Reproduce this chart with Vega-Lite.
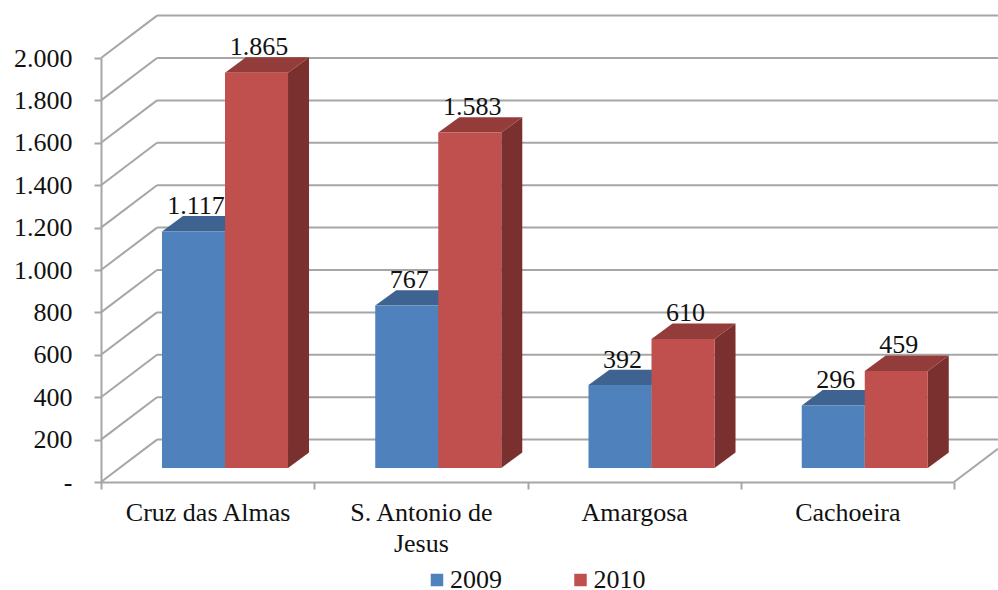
{
"$schema":"https://vega.github.io/schema/vega-lite/v6.json",
"width":853,"height":424,
"autosize":{"type":"none"},
"padding":{"left":101,"top":58,"right":44,"bottom":108},
"background":"white",
"config":{"view":{"stroke":null}},
"datasets":{
"bars":[
{"city":"Cruz das Almas","year":"2009","value":1117},
{"city":"S. Antonio de Jesus","year":"2009","value":767},
{"city":"Amargosa","year":"2009","value":392},
{"city":"Cachoeira","year":"2009","value":296},
{"city":"Cruz das Almas","year":"2010","value":1865},
{"city":"S. Antonio de Jesus","year":"2010","value":1583},
{"city":"Amargosa","year":"2010","value":610},
{"city":"Cachoeira","year":"2010","value":459}
],
"ticks":[{"tick":0},{"tick":200},{"tick":400},{"tick":600},{"tick":800},{"tick":1000},{"tick":1200},{"tick":1400},{"tick":1600},{"tick":1800},{"tick":2000}]
},
"resolve":{"axis":{"x":"independent","y":"independent"}},
"layer":[
{"data":{"name":"ticks"},"transform":[{"calculate":"datum.tick+200","as":"back"}],
 "mark":{"type":"rule","color":"#A6A6A6","strokeWidth":2},
 "encoding":{
  "x":{"datum":0.2626,"type":"quantitative","scale":{"domain":[0,4],"nice":false},"axis":null},
  "x2":{"datum":4.206},
  "y":{"field":"back","type":"quantitative","scale":{"domain":[0,2000],"nice":false},"axis":null}}},
{"data":{"name":"ticks"},"transform":[{"calculate":"datum.tick+200","as":"back"}],
 "mark":{"type":"rule","color":"#A6A6A6","strokeWidth":2},
 "encoding":{
  "x":{"datum":0,"type":"quantitative","scale":{"domain":[0,4],"nice":false},"axis":null},
  "x2":{"datum":0.2626},
  "y":{"field":"tick","type":"quantitative","scale":{"domain":[0,2000],"nice":false},"axis":null},
  "y2":{"field":"back"}}},
{"data":{"name":"ticks"},"transform":[{"filter":"datum.tick==0"},{"calculate":"157","as":"back"}],
 "mark":{"type":"rule","color":"#A6A6A6","strokeWidth":2},
 "encoding":{
  "x":{"datum":4,"type":"quantitative","scale":{"domain":[0,4],"nice":false},"axis":null},
  "x2":{"datum":4.206},
  "y":{"field":"tick","type":"quantitative","scale":{"domain":[0,2000],"nice":false},"axis":null},
  "y2":{"field":"back"}}},
{"data":{"name":"bars"},
 "transform":[
  {"calculate":"indexof(['Cruz das Almas','S. Antonio de Jesus','Amargosa','Cachoeira'],datum.city)+0.286+(datum.year=='2010'?0.2955:0)","as":"x0"},
  {"calculate":"datum.x0+0.2955","as":"x1"},
  {"calculate":"65+datum.value","as":"top"},
  {"calculate":"datum.city+datum.year","as":"key"},
  {"calculate":"[0,1]","as":"d"},{"flatten":["d"]},
  {"calculate":"datum.x1+datum.d*0.0985","as":"sx"},
  {"calculate":"datum.top+datum.d*73","as":"sy"},
  {"calculate":"66+datum.d*73","as":"sy2"},
  {"calculate":"datum.x0+datum.d*0.0985","as":"tx"}
 ],
 "layer":[
  {"transform":[{"filter":"datum.year=='2009'"}],"mark":{"type":"area","orient":"vertical","color":"#3A5F8B"},
   "encoding":{"x":{"field":"sx","type":"quantitative","scale":{"domain":[0,4],"nice":false},"axis":null},
    "y":{"field":"sy","type":"quantitative","scale":{"domain":[0,2000],"nice":false},"axis":null},"y2":{"field":"sy2"},"detail":{"field":"key"}}},
  {"transform":[{"filter":"datum.year=='2010'"}],"mark":{"type":"area","orient":"vertical","color":"#7A302E"},
   "encoding":{"x":{"field":"sx","type":"quantitative","scale":{"domain":[0,4],"nice":false},"axis":null},
    "y":{"field":"sy","type":"quantitative","scale":{"domain":[0,2000],"nice":false},"axis":null},"y2":{"field":"sy2"},"detail":{"field":"key"}}},
  {"transform":[{"filter":"datum.year=='2009'"}],"mark":{"type":"area","orient":"horizontal","color":"#3E6390"},
   "encoding":{"x":{"field":"tx","type":"quantitative","scale":{"domain":[0,4],"nice":false},"axis":null},"x2":{"field":"sx"},
    "y":{"field":"sy","type":"quantitative","scale":{"domain":[0,2000],"nice":false},"axis":null},"detail":{"field":"key"}}},
  {"transform":[{"filter":"datum.year=='2010'"}],"mark":{"type":"area","orient":"horizontal","color":"#943C3A"},
   "encoding":{"x":{"field":"tx","type":"quantitative","scale":{"domain":[0,4],"nice":false},"axis":null},"x2":{"field":"sx"},
    "y":{"field":"sy","type":"quantitative","scale":{"domain":[0,2000],"nice":false},"axis":null},"detail":{"field":"key"}}}
 ]},
{"data":{"name":"bars"},
 "transform":[
  {"calculate":"indexof(['Cruz das Almas','S. Antonio de Jesus','Amargosa','Cachoeira'],datum.city)+0.286+(datum.year=='2010'?0.2955:0)","as":"x0"},
  {"calculate":"datum.x0+0.2955","as":"x1"},
  {"calculate":"65+datum.value","as":"top"},
  {"calculate":"66","as":"base"}
 ],
 "mark":{"type":"rect"},
 "encoding":{
  "x":{"field":"x0","type":"quantitative","scale":{"domain":[0,4],"nice":false},
   "axis":{"title":null,"values":[0,1,2,3,4],"labels":false,"grid":false,"tickSize":7,"tickColor":"#A6A6A6","tickWidth":2,"domainColor":"#A6A6A6","domainWidth":2}},
  "x2":{"field":"x1"},
  "y":{"field":"top","type":"quantitative","scale":{"domain":[0,2000],"nice":false},
   "axis":{"title":null,"orient":"left","values":[0,200,400,600,800,1000,1200,1400,1600,1800,2000],"grid":false,"ticks":true,"domain":true,"labels":true,"tickSize":7,"tickColor":"#A6A6A6","tickWidth":2,"domainColor":"#A6A6A6","domainWidth":2,
    "labelFont":"Liberation Serif","labelFontSize":26,"labelColor":"#111111","labelPadding":22,"labelOverlap":false,"labelExpr":"datum.value==0?'-\u00a0\u00a0\u00a0':replace(format(datum.value,','),',','.')"}},
  "y2":{"field":"base"},
  "color":{"field":"year","type":"nominal","scale":{"domain":["2009","2010"],"range":["#4F81BD","#C0504D"]},
   "legend":{"title":null,"orient":"none","legendX":323,"legendY":509,"direction":"horizontal","columns":2,"columnPadding":65.5,"symbolType":"square","symbolSize":156,"symbolStrokeWidth":0,"labelOffset":0,"labelFont":"Liberation Serif","labelFontSize":26,"labelColor":"#111111"}}}},
{"data":{"name":"bars"},
 "transform":[
  {"calculate":"indexof(['Cruz das Almas','S. Antonio de Jesus','Amargosa','Cachoeira'],datum.city)+0.4338+(datum.year=='2010'?0.2955:0)","as":"xc"},
  {"calculate":"65+datum.value","as":"top"},
  {"calculate":"replace(format(datum.value,','),',','.')","as":"label"}
 ],
 "mark":{"type":"text","font":"Liberation Serif","fontSize":26,"color":"#111111","align":"center","baseline":"alphabetic","dx":2.5,"dy":-17.5},
 "encoding":{
  "x":{"field":"xc","type":"quantitative","scale":{"domain":[0,4],"nice":false},
   "axis":{"title":null,"orient":"bottom","values":[0.5,1.5,2.5,3.5],"ticks":false,"domain":false,"grid":false,"labelFont":"Liberation Serif","labelFontSize":26,"labelColor":"#111111","labelPadding":17,"labelLineHeight":31,"labelOverlap":false,"labelFlush":false,
    "labelExpr":"['Cruz das Almas',['S. Antonio de','Jesus'],'Amargosa','Cachoeira'][floor(datum.value)]"}},
  "y":{"field":"top","type":"quantitative","scale":{"domain":[0,2000],"nice":false},"axis":null},
  "text":{"field":"label"}}}
]
}
